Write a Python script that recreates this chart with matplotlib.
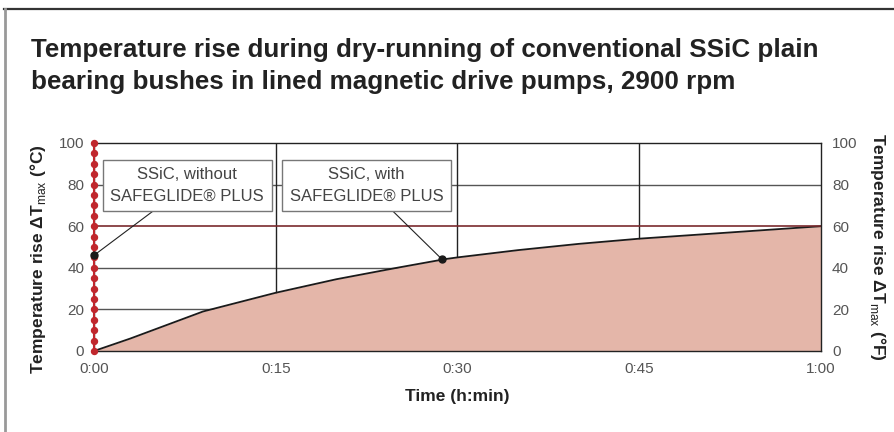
import numpy as np
import matplotlib
matplotlib.use("Agg")
import matplotlib.pyplot as plt
from matplotlib.lines import Line2D

plt.rcParams['font.family'] = ['Liberation Sans', 'DejaVu Sans']
plt.rcParams['mathtext.fontset'] = 'custom'
plt.rcParams['mathtext.rm'] = 'Liberation Sans'
plt.rcParams['mathtext.bf'] = 'Liberation Sans:bold'

# data (time in minutes, temperature rise)
t_with = [0, 3, 6, 9, 12, 15, 20, 25, 29, 30, 35, 40, 45, 50, 55, 60]
dT_with = [0, 6, 12.5, 19, 23.5, 28, 34.5, 40, 44.2, 45, 48.5, 51.5, 54, 56, 58, 60]
dT_without = np.arange(0, 101, 5)      # vertical jump at t=0
t_without = np.zeros(len(dT_without))
limit = 60
mark_without = (0, 46)
mark_with = (28.7, 44.2)

xticks = [0, 15, 30, 45, 60]
xticklabels = ['0:00', '0:15', '0:30', '0:45', '1:00']
yticks = [0, 20, 40, 60, 80, 100]

red = '#c0272d'
fill = '#e4b6a9'
grey_txt = '#555555'

fig = plt.figure(figsize=(8.95, 4.32), dpi=100)

# frame around the figure
fig.add_artist(Line2D([4/895, 1], [1-8.5/432]*2, color='#333333', lw=1.6))
fig.add_artist(Line2D([5.5/895]*2, [0, 1-8.5/432], color='#999999', lw=2))

fig.text(31/895, 1-50/432, 'Temperature rise during dry-running of conventional SSiC plain',
         fontsize=18.7, fontweight='bold', color='#222222', va='center')
fig.text(31/895, 1-82/432, 'bearing bushes in lined magnetic drive pumps, 2900 rpm',
         fontsize=18.7, fontweight='bold', color='#222222', va='center')

ax = fig.add_axes([94/895, 1-351/432, 727/895, 208/432])
ax.set_xlim(0, 60)
ax.set_ylim(0, 100)

for y in [20, 40, 80]:
    ax.axhline(y, color='#555555', lw=1, zorder=1)
for x in [15, 30, 45]:
    ax.axvline(x, color='#222222', lw=1, zorder=1)

ax.fill_between(t_with, dT_with, 0, color=fill, lw=0, zorder=2)
ax.plot(t_with, dT_with, color='#1a1a1a', lw=1.3, zorder=3)
ax.axhline(limit, color='#7a2a2e', lw=1.2, zorder=3)

ax.plot(t_without, dT_without, color=red, lw=1.5, marker='o', ms=4.3,
        clip_on=False, zorder=5)

for s in ax.spines.values():
    s.set_color('#222222')
    s.set_linewidth(1)
    s.set_zorder(4)

ax.set_xticks(xticks)
ax.set_xticklabels(xticklabels)
ax.set_yticks(yticks)
ax.tick_params(length=0, labelsize=11, labelcolor=grey_txt, pad=7)
ax.tick_params(axis='x', pad=8)

ax2 = ax.twinx()
ax2.set_ylim(0, 100)
ax2.set_yticks(yticks)
ax2.tick_params(length=0, labelsize=11, labelcolor=grey_txt, pad=8)
for s in ax2.spines.values():
    s.set_visible(False)

ax.set_xlabel('Time (h:min)', fontsize=12.5, fontweight='bold', color='#222222', labelpad=9)
ax.set_ylabel(r'Temperature rise ΔT$_{\mathrm{max}}$ (°C)', fontsize=12.5,
              fontweight='bold', color='#222222', va='center')
ax.yaxis.set_label_coords(-0.077, 0.44)
ax2.set_ylabel(r'Temperature rise ΔT$_{\mathrm{max}}$ (°F)', fontsize=12.5,
               fontweight='bold', color='#222222', rotation=-90, va='center')
ax2.yaxis.set_label_coords(1.078, 0.5)

box = dict(boxstyle='square,pad=0.45', fc='white', ec='#777777', lw=1)
arrow = dict(arrowstyle='-', color='#222222', lw=0.8, shrinkA=0, shrinkB=0)
ax.annotate('SSiC, without\nSAFEGLIDE® PLUS', xy=mark_without, xytext=(7.7, 79.6),
            ha='center', va='center', fontsize=12, color='#444444', linespacing=1.5,
            bbox=box, arrowprops=arrow, zorder=6, annotation_clip=False)
ax.annotate('SSiC, with\nSAFEGLIDE® PLUS', xy=mark_with, xytext=(22.5, 79.6),
            ha='center', va='center', fontsize=12, color='#444444', linespacing=1.5,
            bbox=box, arrowprops=arrow, zorder=6)
ax.plot(*mark_without, 'o', color='#1a1a1a', ms=5, clip_on=False, zorder=7)
ax.plot(*mark_with, 'o', color='#1a1a1a', ms=5, zorder=7)

fig.savefig('out.png', dpi=100)
